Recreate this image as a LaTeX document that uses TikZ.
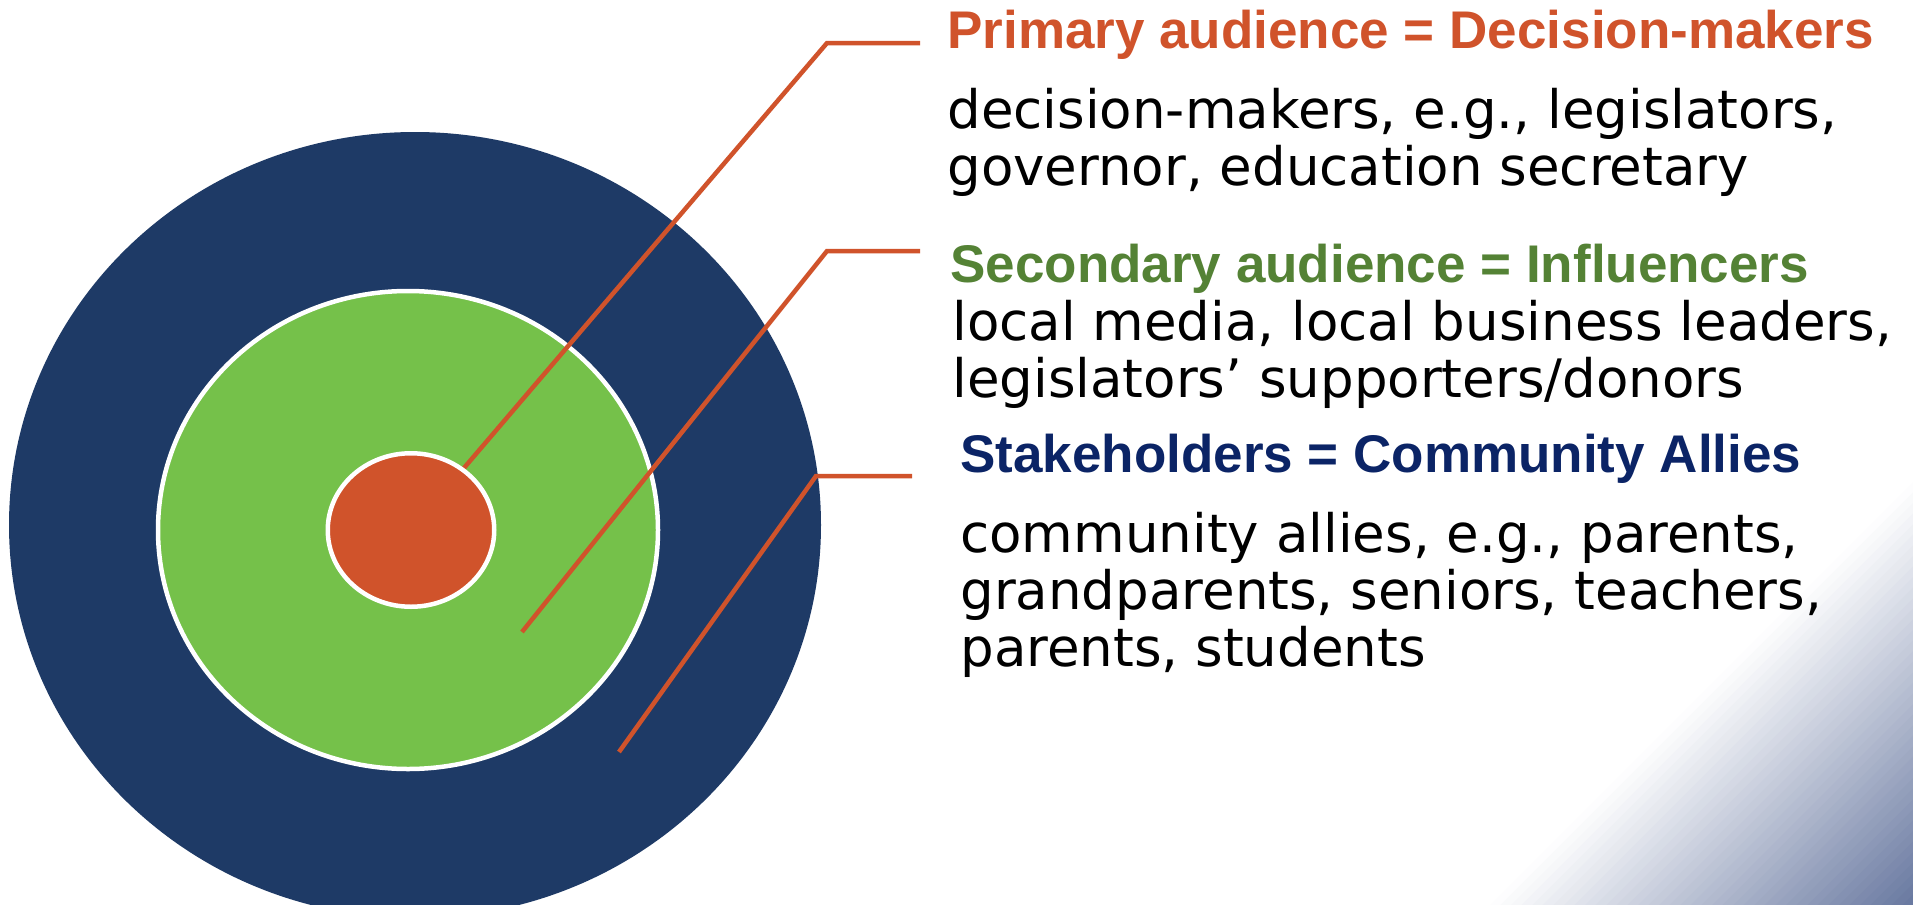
\documentclass[tikz,border=0pt]{standalone}
\usepackage{fontspec}
\setmainfont{DejaVu Sans}
\newfontfamily\headfont{Liberation Sans}
\usetikzlibrary{shapes.geometric}
\definecolor{navyring}{HTML}{1E3A66}
\definecolor{greenring}{HTML}{75C14A}
\definecolor{redcore}{HTML}{D0532B}
\definecolor{leadline}{HTML}{D0532B}
\definecolor{headorange}{HTML}{D0532B}
\definecolor{headgreen}{HTML}{548235}
\definecolor{headnavy}{HTML}{0B2466}
\definecolor{gradslate}{HTML}{6878A0}
\begin{document}
\begin{tikzpicture}[x=0.5pt,y=-0.5pt,
  ring/.style={ellipse, inner sep=0pt, outer sep=0pt},
  leader/.style={draw=leadline, line width=2.25pt},
  headtext/.style={anchor=base west, inner sep=0pt, font=\headfont\bfseries\fontsize{26.5}{28.5}\selectfont},
  bodytext/.style={anchor=base west, inner sep=0pt, font=\fontsize{26.5}{28.5}\selectfont, text=black}]
\useasboundingbox (0,0) rectangle (1913,905);
\fill[white] (0,0) rectangle (1913,905);
% corner gradient
\begin{scope}
\clip (0,0) rectangle (1913,905);
\foreach \i in {0,...,39}{
  \pgfmathsetmacro{\sa}{2395+\i*10.575}
  \pgfmathsetmacro{\sb}{\sa+11.5}
  \pgfmathsetmacro{\pc}{(\i+0.5)*2.5}
  \fill[gradslate!\pc!white] (\sa-1000,1000) -- (\sa-380,380) -- (\sb-380,380) -- (\sb-1000,1000) -- cycle;
}
\end{scope}
% rings
\node[ring, fill=navyring, minimum width=406pt, minimum height=393pt] (outer) at (415,525) {};
\node[ring, fill=greenring, draw=white, line width=2.25pt, minimum width=250pt, minimum height=239pt] (middle) at (408,530) {};
% leader lines
\coordinate (corec) at (411,530);
\coordinate (k1) at (827,43);  \coordinate (e1) at (920,43);
\coordinate (s2) at (522,632); \coordinate (k2) at (827,251); \coordinate (e2) at (920,251);
\coordinate (s3) at (619,752); \coordinate (k3) at (816,476); \coordinate (e3) at (912,476);
\draw[leader] (corec) -- (k1) -- (e1);
\draw[leader] (s2) -- (k2) -- (e2);
\draw[leader] (s3) -- (k3) -- (e3);
\node[ring, fill=redcore, draw=white, line width=2.25pt, minimum width=83.25pt, minimum height=76.75pt] (core) at (corec) {};
% texts
\node[headtext, text=headorange] (h1) at (947,48) {Primary audience = Decision-makers};
\node[bodytext] (b1a) at (947,128) {decision-makers, e.g., legislators,};
\node[bodytext] (b1b) at (947,185) {governor, education secretary};
\node[headtext, text=headgreen] (h2) at (950,282) {Secondary audience = Influencers};
\node[bodytext] (b2a) at (952,340) {local media, local business leaders,};
\node[bodytext] (b2b) at (952,397) {legislators’ supporters/donors};
\node[headtext, text=headnavy] (h3) at (960,472) {Stakeholders = Community Allies};
\node[bodytext] (b3a) at (960,552) {community allies, e.g., parents,};
\node[bodytext] (b3b) at (960,609) {grandparents, seniors, teachers,};
\node[bodytext] (b3c) at (960,666) {parents, students};
\end{tikzpicture}
\end{document}
